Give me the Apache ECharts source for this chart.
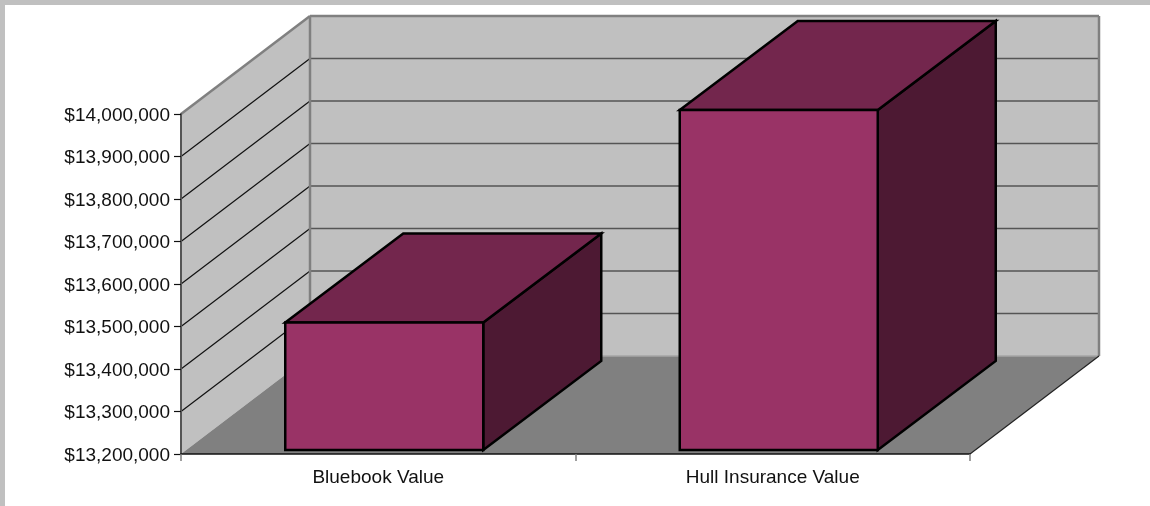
<!DOCTYPE html>
<html>
<head>
<meta charset="utf-8">
<style>
html,body{margin:0;padding:0;background:#fff;}
#c{width:1150px;height:506px;}
</style>
<script src="https://cdn.jsdelivr.net/npm/echarts@6/dist/echarts.min.js"></script>
</head>
<body>
<div id="c"></div>
<script>
const categories = ['Bluebook Value', 'Hull Insurance Value'];
const values = [13500000, 14000000];
const yTicks = [13200000, 13300000, 13400000, 13500000, 13600000, 13700000, 13800000, 13900000, 14000000];

const DEPTH_X = 129, DEPTH_Y = -98;
const BAR_OFF_X = 6, BAR_OFF_Y = -4, BAR_DEPTH_X = 118, BAR_DEPTH_Y = -89, BAR_WIDTH = 198;

function poly(points, fill, stroke, lineWidth) {
  return { type: 'polygon', shape: { points }, style: { fill, stroke: stroke || 'none', lineWidth: lineWidth || 0, lineJoin: 'miter' } };
}
function seg(a, b, stroke, lineWidth) {
  return { type: 'line', shape: { x1: a[0], y1: a[1], x2: b[0], y2: b[1] }, style: { stroke, lineWidth } };
}

function renderScene(params, api) {
  const left = api.coord([0, yTicks[0]])[0] - api.size([1, 0])[0] / 2;
  const right = left + api.size([1, 0])[0] * categories.length;
  const bottom = api.coord([0, yTicks[0]])[1];
  const top = api.coord([0, yTicks[yTicks.length - 1]])[1];
  const b = (x, y) => [x + DEPTH_X, y + DEPTH_Y];
  const ch = [
    poly([[left, top], b(left, top), b(left, bottom), [left, bottom]], '#c0c0c0'),
    poly([b(left, top), b(right, top), b(right, bottom), b(left, bottom)], '#c0c0c0'),
    poly([[left, bottom], b(left, bottom), b(right, bottom), [right, bottom]], '#808080')
  ];
  yTicks.slice(1, -1).forEach(v => {
    const y = api.coord([0, v])[1];
    ch.push(seg([left, y], b(left, y), '#111', 1.2));
    ch.push(seg(b(left, y), b(right, y), '#555', 1.5));
  });
  ch.push(seg(b(left, bottom), b(right, bottom), '#a6a6a6', 1.5));
  ch.push(seg([left, top], b(left, top), '#808080', 2.5));
  ch.push(seg(b(left, top), b(right, top), '#808080', 2.5));
  ch.push(seg(b(left, top), b(left, bottom), '#808080', 2.5));
  ch.push(seg(b(right, top), b(right, bottom), '#808080', 2.5));
  ch.push(seg([right, bottom], b(right, bottom), '#222', 1.2));
  return { type: 'group', children: ch };
}

function renderBar(params, api) {
  const base = api.coord([api.value(0), yTicks[0]]);
  const tip = api.coord([api.value(0), api.value(1)]);
  const x0 = base[0] + BAR_OFF_X - BAR_WIDTH / 2, x1 = x0 + BAR_WIDTH;
  const y0 = base[1] + BAR_OFF_Y, y1 = tip[1] + BAR_OFF_Y;
  const dx = BAR_DEPTH_X, dy = BAR_DEPTH_Y;
  return {
    type: 'group',
    children: [
      poly([[x1, y1], [x1 + dx, y1 + dy], [x1 + dx, y0 + dy], [x1, y0]], '#4d1933', '#000', 2.5),
      poly([[x0, y1], [x0 + dx, y1 + dy], [x1 + dx, y1 + dy], [x1, y1]], '#73264d', '#000', 2.5),
      poly([[x0, y1], [x1, y1], [x1, y0], [x0, y0]], '#993366', '#000', 2.5)
    ]
  };
}

const chart = echarts.init(document.getElementById('c'), null, { renderer: 'canvas' });
chart.setOption({
  animation: false,
  backgroundColor: '#fff',
  textStyle: { fontFamily: '"Liberation Sans", Arial, sans-serif' },
  graphic: [
    { type: 'rect', silent: true, z: 100, shape: { x: 0, y: 0, width: 1150, height: 5 }, style: { fill: '#c0c0c0' } },
    { type: 'rect', silent: true, z: 100, shape: { x: 0, y: 0, width: 5, height: 506 }, style: { fill: '#c0c0c0' } }
  ],
  grid: { left: 181, right: 180, top: 114, bottom: 52, containLabel: false },
  xAxis: {
    type: 'category',
    data: categories,
    z: 5,
    axisLine: { show: true, onZero: false, lineStyle: { color: '#111', width: 1.5 } },
    axisTick: { show: true, alignWithLabel: false, length: 7, lineStyle: { color: '#808080', width: 1.5 } },
    axisLabel: { color: '#111', fontSize: 19, margin: 14 }
  },
  yAxis: {
    type: 'value',
    min: 13200000,
    max: 14000000,
    interval: 100000,
    z: 5,
    splitLine: { show: false },
    axisLine: { show: true, lineStyle: { color: '#555', width: 2 } },
    axisTick: { show: true, length: 7, lineStyle: { color: '#111', width: 1.2 } },
    axisLabel: {
      color: '#111', fontSize: 19, margin: 11,
      formatter: v => '{t|$' + Number(v).toLocaleString('en-US') + '}',
      rich: { t: { color: '#111', fontSize: 19, padding: [3, 0, 0, 0] } }
    }
  },
  series: [
    { type: 'custom', z: 1, silent: true, clip: false, renderItem: renderScene, data: [[0, values[0]]], encode: { x: 0, y: 1 } },
    { type: 'custom', z: 2, silent: true, clip: false, renderItem: renderBar, data: categories.map((c, i) => [i, values[i]]), encode: { x: 0, y: 1 } }
  ]
});
</script>
</body>
</html>
